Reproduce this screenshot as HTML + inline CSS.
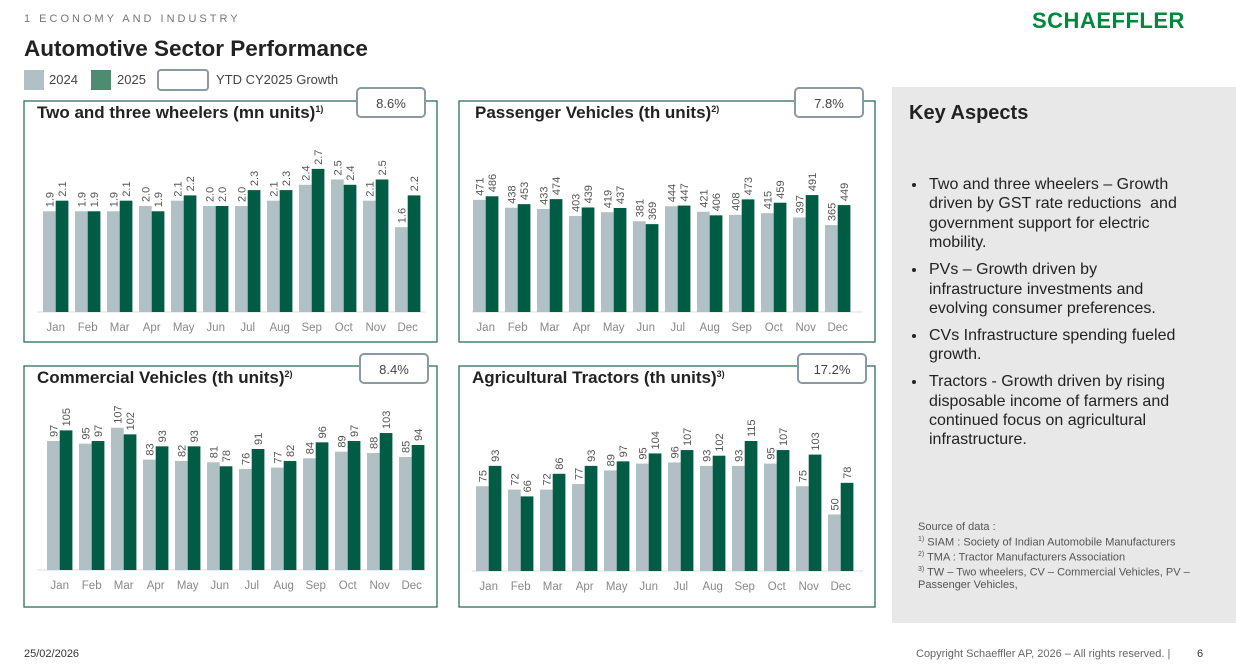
<!DOCTYPE html>
<html><head><meta charset="utf-8"><style>
body{margin:0;width:1236px;height:671px;overflow:hidden;background:#fff;font-family:"Liberation Sans",sans-serif;position:relative;color:#222}
.a{position:absolute;white-space:nowrap}
#key{position:absolute;left:892px;top:87px;width:344px;height:536px;background:#e8e8e8}
#key ul{margin:0;padding:0 0 0 18px;position:absolute;left:17px;top:88px;width:262px;font-size:16px;line-height:19.4px;color:#222}
#key li{margin-bottom:7.5px;padding-left:2px}
</style></head><body>
<div class="a" style="left:24px;top:13px;font-size:11px;letter-spacing:3px;color:#777">1 ECONOMY AND INDUSTRY</div>
<div class="a" style="left:1032px;top:8px;font-size:22px;font-weight:bold;color:#00893d;letter-spacing:0.5px">SCHAEFFLER</div>
<div class="a" style="left:24px;top:36px;font-size:22.5px;font-weight:bold;color:#222">Automotive Sector Performance</div>
<div class="a" style="left:24px;top:70px;width:20px;height:20px;background:#b0c0c4"></div>
<div class="a" style="left:49px;top:72px;font-size:13px;color:#444">2024</div>
<div class="a" style="left:91px;top:70px;width:20px;height:20px;background:#4e8c72"></div>
<div class="a" style="left:117px;top:72px;font-size:13px;color:#444">2025</div>
<div class="a" style="left:157px;top:69px;width:48px;height:18px;border:2px solid #8a9aa0;border-radius:4px"></div>
<div class="a" style="left:216px;top:72px;font-size:13px;color:#444">YTD CY2025 Growth</div>

<svg id="charts" width="892" height="620" style="position:absolute;left:0;top:0" xmlns="http://www.w3.org/2000/svg"></svg>

<div id="key">
<div class="a" style="left:17px;top:15px;font-size:20px;font-weight:bold">Key Aspects</div>
<ul>
<li>Two and three wheelers – Growth driven by GST rate reductions&nbsp; and government support for electric mobility.</li>
<li>PVs – Growth driven by infrastructure investments and evolving consumer preferences.</li>
<li>CVs Infrastructure spending fueled growth.</li>
<li>Tractors - Growth driven by rising disposable income of farmers and continued focus on agricultural infrastructure.</li>
</ul>
<div class="a" style="left:26px;top:434px;font-size:11px;line-height:12.5px;color:#555;white-space:normal;width:280px">Source of data :<br><sup style="font-size:7px">1)</sup> SIAM : Society of Indian Automobile Manufacturers<br><sup style="font-size:7px">2)</sup> TMA : Tractor Manufacturers Association<br><sup style="font-size:7px">3)</sup> TW – Two wheelers, CV – Commercial Vehicles, PV – Passenger Vehicles,</div>
</div>
<div class="a" style="left:24px;top:648px;font-size:11px;color:#333">25/02/2026</div>
<div class="a" style="left:916px;top:648px;font-size:11px;color:#666">Copyright Schaeffler AP, 2026 – All rights reserved. |</div>
<div class="a" style="left:1197px;top:648px;font-size:11px;color:#333">6</div>

<script>
const months=["Jan","Feb","Mar","Apr","May","Jun","Jul","Aug","Sep","Oct","Nov","Dec"];
const tw2024=[1.9,1.9,1.9,2.0,2.1,2.0,2.0,2.1,2.4,2.5,2.1,1.6];
const tw2025=[2.1,1.9,2.1,1.9,2.2,2.0,2.3,2.3,2.7,2.4,2.5,2.2];
const tw2024Labels=["1.9","1.9","1.9","2.0","2.1","2.0","2.0","2.1","2.4","2.5","2.1","1.6"];
const tw2025Labels=["2.1","1.9","2.1","1.9","2.2","2.0","2.3","2.3","2.7","2.4","2.5","2.2"];
const pv2024=[471,438,433,403,419,381,444,421,408,415,397,365];
const pv2025=[486,453,474,439,437,369,447,406,473,459,491,449];
const cv2024=[97,95,107,83,82,81,76,77,84,89,88,85];
const cv2025=[105,97,102,93,93,78,91,82,96,97,103,94];
const at2024=[75,72,72,77,89,95,96,93,93,95,75,50];
const at2025=[93,66,86,93,97,104,107,102,115,107,103,78];
const growth=["8.6%","7.8%","8.4%","17.2%"];
const titles=["Two and three wheelers (mn units)","Passenger Vehicles (th units)","Commercial Vehicles (th units)","Agricultural Tractors (th units)"];
const sups=["1)","2)","2)","3)"];

const svg=document.getElementById('charts');const NS="http://www.w3.org/2000/svg";
function mk(t,a,p){const e=document.createElementNS(NS,t);for(const k in a)e.setAttribute(k,a[k]);(p||svg).appendChild(e);return e;}
const panels=[
 {x:24,y:101,w:413,h:241,base:312,off:19,yMax:2.83,a:tw2024,b:tw2025,la:tw2024Labels,lb:tw2025Labels,badge:[357,88],tx:37},
 {x:459,y:101,w:416,h:241,base:312,off:14,yMax:630,a:pv2024,b:pv2025,badge:[795,88],tx:475},
 {x:24,y:366,w:413,h:241,base:570,off:23,yMax:112.8,a:cv2024,b:cv2025,badge:[360,354],tx:37},
 {x:459,y:366,w:416,h:241,base:571,off:17,yMax:132.7,a:at2024,b:at2025,badge:[798,354],tx:472}
];
const names=["two-wheelers","passenger-vehicles","commercial-vehicles","tractors"];
panels.forEach((p,i)=>{
 const g=mk('g',{});
 
 
 const r=mk('rect',{x:p.x,y:p.y,width:p.w,height:p.h,fill:'none',stroke:'#2f6e5e','stroke-width':1.3},g);
 
 const t=mk('text',{x:p.tx,y:p.y+17,'font-size':17,'font-weight':'bold',fill:'#222'},g);
 t.textContent=titles[i];
 
 const s=mk('tspan',{'font-size':9,dy:-6},t);s.textContent=sups[i];
 const bx=mk('rect',{x:p.badge[0],y:p.badge[1],width:68,height:29,rx:4,fill:'#fff',stroke:'#8a9aa0','stroke-width':2},g);
 
 const bt=mk('text',{x:p.badge[0]+34,y:p.badge[1]+20,'font-size':13,fill:'#444','text-anchor':'middle'},g);
 bt.textContent=growth[i];
 
 const ax=mk('line',{x1:p.x+13,x2:p.x+p.w-12,y1:p.base,y2:p.base,stroke:'#ddd','stroke-width':1},g);
 
 const sc=v=>(v/p.yMax)*150, bw=12.7, pitch=32;
 months.forEach((m,j)=>{
  const x0=p.x+p.off+j*pitch;
  [[p.a,'#b0c0c4',p.la,'2024'],[p.b,'#005c45',p.lb,'2025']].forEach(([arr,c,lab,yr],k)=>{
   const h=sc(arr[j]),x=x0+k*bw;
   const b=mk('rect',{x:x,y:p.base-h,width:bw,height:h,fill:c},g);
   
   
   const lx=x+bw/2+4,ly=p.base-h-4;
   const tl=mk('text',{x:lx,y:ly,'font-size':11,fill:'#555',transform:`rotate(-90 ${lx} ${ly})`},g);
   tl.textContent=lab?lab[j]:String(arr[j]);
   
   
  });
  const ml=mk('text',{x:x0+bw,y:p.base+19,'font-size':11.5,fill:'#888','text-anchor':'middle'},g);
  ml.textContent=m;
  
  
 });
});
</script>
</body></html>
